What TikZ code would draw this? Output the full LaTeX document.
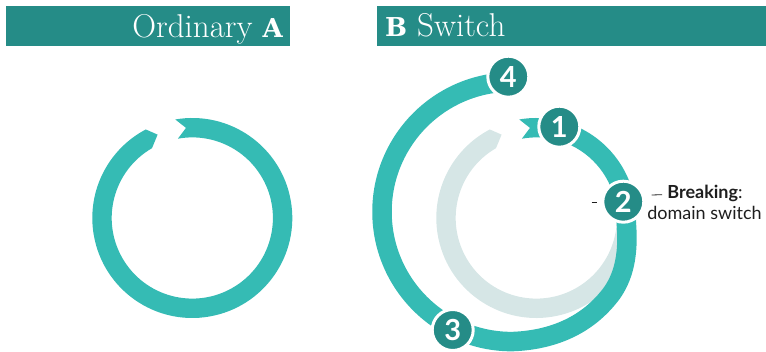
\documentclass[tikz,border=0pt]{standalone}
\usepackage{fontspec}
\usetikzlibrary{calc}
\newfontfamily\labfont{Lato}
\newfontfamily\slabfont{DejaVu Serif}
\definecolor{hdr}{HTML}{258C87}
\definecolor{ringc}{HTML}{35BBB4}
\definecolor{pale}{HTML}{D6E6E6}
\definecolor{ink}{HTML}{1E1E1E}
\begin{document}
\begin{tikzpicture}[x=1pt,y=1pt,
  headerbar/.style={fill=hdr},
  marker/.style={circle, fill=hdr, draw=white, line width=3pt, minimum size=41pt, inner sep=0pt, text=white, font=\labfont\bfseries\fontsize{29}{29}\selectfont},
  band/.style={draw=ringc, line width=19.5pt},
  leader/.style={draw=ink, line width=0.8pt},
  lab/.style={text=ink, inner sep=0pt, anchor=base, font=\labfont\fontsize{18}{21}\selectfont},
]
\useasboundingbox (0,0) rectangle (766,352);
% headers
\fill[headerbar] (6,306) rectangle (290,346);
\fill[headerbar] (377,306) rectangle (766,346);
\node[anchor=base east, text=white, inner sep=0pt] (tA) at (283,314.7) {\fontsize{33}{33}\selectfont Ordinary {\slabfont\bfseries\fontsize{26}{26}\selectfont A}};
\node[anchor=base west, text=white, inner sep=0pt] (tB) at (385,315) {\fontsize{33}{33}\selectfont{\slabfont\bfseries\fontsize{26}{26}\selectfont B} Switch};
% ring A
\coordinate (cA) at (192.3,134);
\fill[ringc] ($(cA)+(99.8:100)$) arc[start angle=99.8, end angle=-242.3, radius=100]
  -- ($(cA)+(-247.4:90.3)$) -- ($(cA)+(-240:80.6)$)
  arc[start angle=-240, end angle=100.3, radius=80.6]
  -- ($(cA)+(94:90.3)$) -- cycle;
% ring B
\coordinate (cB) at (536.3,134);
\fill[pale] ($(cB)+(12:100)$) arc[start angle=12, end angle=-242.3, radius=100]
  -- ($(cB)+(-247.4:90.3)$) -- ($(cB)+(-240:80.6)$)
  arc[start angle=-240, end angle=12, radius=80.6] -- cycle;
\fill[ringc] ($(cB)+(99.8:100)$) arc[start angle=99.8, end angle=8, radius=100]
  -- ($(cB)+(8:80.6)$) arc[start angle=8, end angle=100.3, radius=80.6]
  -- ($(cB)+(94:90.3)$) -- cycle;
\draw[band] (623.9,149.5) .. controls (629,115) and (630,80) .. (608,54)
  .. controls (590,32) and (560,12) .. (511.8,10.4)
  arc[start angle=270, end angle=95, radius=129.8];
% leaders
\coordinate (d1) at (591.7,149.3);
\coordinate (d2) at (597,149.3);
\coordinate (d3) at (651.7,157);
\coordinate (d4) at (662,157.3);
\draw[leader] (d1) -- (d2);
\draw[leader] (d3) -- (d4);
% markers
\node[marker] (m1) at (559.3,225.3) {1};
\node[marker] (m2) at (623.3,150.3) {2};
\node[marker] (m3) at (452.7,22) {3};
\node[marker] (m4) at (508.3,275.3) {4};
% label
\node[lab] (lab1) at (705,153) {\textbf{Breaking}:};
\node[lab] (lab2) at (704.5,132) {domain switch};
\end{tikzpicture}
\end{document}
